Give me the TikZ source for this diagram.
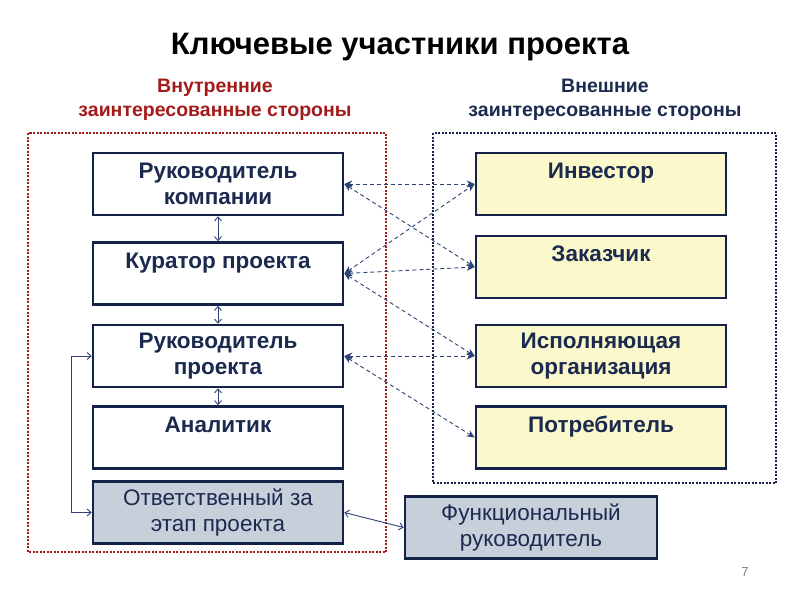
\documentclass[tikz,border=0pt]{standalone}
\usepackage{fontspec}
\setmainfont{Liberation Sans}
\usetikzlibrary{arrows.meta}
\definecolor{navy}{HTML}{14224A}
\definecolor{textnavy}{HTML}{1B2A4E}
\definecolor{arrnavy}{HTML}{2E4274}
\definecolor{darkred}{HTML}{A31A1A}
\definecolor{yellowf}{HTML}{FBF9CC}
\definecolor{grayf}{HTML}{C7CFDA}
\begin{document}
\begin{tikzpicture}[x=1pt,y=-1pt,
  box/.style={draw=navy, line width=2.6pt, minimum width=250pt, minimum height=62pt, inner sep=0pt, align=center, text=textnavy, font=\fontsize{22.5}{26}\selectfont\bfseries},
  lbox/.style={box, fill=white},
  ybox/.style={box, fill=yellowf},
  gbox/.style={box, fill=grayf, font=\fontsize{22.5}{26}\selectfont},
  darrow/.style={draw=arrnavy, line width=0.9pt, dash pattern=on 4pt off 3pt, {Stealth[length=8pt,width=7pt]}-{Stealth[length=8pt,width=7pt]}},
  varrow/.style={draw=arrnavy, line width=0.9pt, {Straight Barb[length=4pt,width=7pt]}-{Straight Barb[length=4pt,width=7pt]}},
  grptitle/.style={font=\fontsize{19.5}{24}\selectfont\bfseries, align=center}
]
\useasboundingbox (0,0) rectangle (800,600);

\node[font=\fontsize{31}{36}\selectfont\bfseries] (title) at (400,47) {Ключевые участники проекта};

\node[grptitle, text=darkred] (lt) at (215,100) {Внутренние\\заинтересованные стороны};
\node[grptitle, text=textnavy] (rt) at (605,100) {Внешние\\заинтересованные стороны};

\draw[darkred, line width=2.2pt, dash pattern=on 2pt off 1.5pt] (28,133) rectangle (386,552);
\draw[navy, line width=2.2pt, dash pattern=on 2pt off 1.5pt] (433,133) rectangle (776,483);

\node[lbox] (b1) at (218,184) {Руководитель\\компании};
\node[lbox] (b2) at (218,273.5) {Куратор проекта\\~};
\node[lbox] (b3) at (218,356) {Руководитель\\проекта};
\node[lbox] (b4) at (218,437.5) {Аналитик\\~};
\node[gbox] (b5) at (218,512.5) {Ответственный за\\этап проекта};

\node[ybox] (r1) at (601,184) {Инвестор\\~};
\node[ybox] (r2) at (601,267) {Заказчик\\~};
\node[ybox] (r3) at (601,356) {Исполняющая\\организация};
\node[ybox] (r4) at (601,437.5) {Потребитель\\~};

\node[gbox, minimum width=252pt] (f) at (531,527.5) {Функциональный\\руководитель};

\draw[varrow] (b1) -- (b2);
\draw[varrow] (b2) -- (b3);
\draw[varrow] (b3) -- (b4);
\draw[varrow] (b3.west) -- ++(-20,0) |- (b5.west);
\draw[varrow] (b5.east) -- (f.west);

\draw[darrow] (b1.east) -- (r1.west);
\draw[darrow] (b1.east) -- (r2.west);
\draw[darrow] (b2.east) -- (r1.west);
\draw[darrow] (b2.east) -- (r2.west);
\draw[darrow] (b2.east) -- (r3.west);
\draw[darrow] (b3.east) -- (r3.west);
\draw[darrow] (b3.east) -- (r4.west);

\node[text=gray, font=\fontsize{13}{15}\selectfont] (pg) at (745,572) {7};
\end{tikzpicture}
\end{document}
